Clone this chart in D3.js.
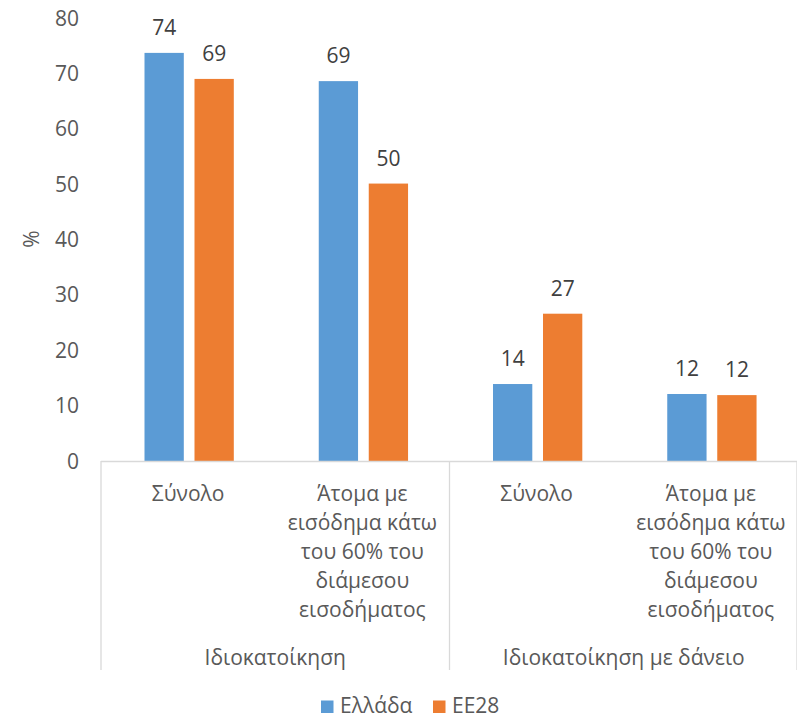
<!DOCTYPE html>
<html>
<head>
<meta charset="utf-8">
<script src="https://cdn.jsdelivr.net/npm/d3@7"></script>
<style>
  html, body { margin: 0; padding: 0; background: #fff; }
  svg { display: block; font-family: "Open Sans", "Noto Sans", sans-serif; }
</style>
</head>
<body>
<svg id="chart" width="797" height="718"></svg>
<script>
// ---- data ----
const categories = ["c1", "c2", "c3", "c4"];
const categoryLabels = [
  ["Σύνολο"],
  ["Άτομα με", "εισόδημα κάτω", "του 60% του", "διάμεσου", "εισοδήματος"],
  ["Σύνολο"],
  ["Άτομα με", "εισόδημα κάτω", "του 60% του", "διάμεσου", "εισοδήματος"]
];
const groups = ["Ιδιοκατοίκηση", "Ιδιοκατοίκηση με δάνειο"];
const groupSpans = [[0, 1], [2, 3]];
const seriesNames = ["Ελλάδα", "ΕΕ28"];
const greeceValues = [73.7, 68.6, 13.9, 12.1];
const eu28Values = [69.0, 50.1, 26.6, 11.9];
const yTicks = [0, 10, 20, 30, 40, 50, 60, 70, 80];
const yLabel = "%";

const colors = ["#5B9BD5", "#ED7D31"];
const seriesValues = [greeceValues, eu28Values];

// ---- layout ----
const svg = d3.select("#chart");
const mLeft = 101, mRight = 798, mTop = 18, mBottom = 461;

const x0 = d3.scaleBand().domain(categories).range([mLeft, mRight]).padding(0);
const x1 = d3.scaleBand().domain(seriesNames).range([43.5, 132.8])
  .paddingInner(0.214).paddingOuter(0);
const y = d3.scaleLinear().domain([0, 80]).range([mBottom, mTop]);

const textColor = "#595959";
const lineColor = "#D9D9D9";
const fs = 21;

// y tick labels
svg.append("g").selectAll("text").data(yTicks).join("text")
  .attr("x", 79).attr("y", d => y(d)).attr("dy", "0.36em")
  .attr("text-anchor", "end").attr("fill", textColor)
  .attr("font-size", fs).text(d => d);

// y label
svg.append("text")
  .attr("transform", `translate(31,239) rotate(-90)`)
  .attr("text-anchor", "middle").attr("dy", "0.36em")
  .attr("fill", textColor).attr("font-size", fs).text(yLabel);

// bars
const barG = svg.append("g");
seriesNames.forEach((s, si) => {
  barG.selectAll(null).data(seriesValues[si]).join("rect")
    .attr("x", (d, i) => x0(categories[i]) + x1(s))
    .attr("width", x1.bandwidth())
    .attr("y", d => y(d))
    .attr("height", d => y(0) - y(d))
    .attr("fill", colors[si]);
  barG.selectAll(null).data(seriesValues[si]).join("text")
    .attr("x", (d, i) => x0(categories[i]) + x1(s) + x1.bandwidth() / 2)
    .attr("y", d => y(d) - 18)
    .attr("text-anchor", "middle").attr("fill", "#404040")
    .attr("font-size", fs).text(d => Math.round(d));
});

// x axis line
const axisG = svg.append("g").attr("stroke", lineColor).attr("stroke-width", 1.3);
axisG.append("line").attr("x1", mLeft).attr("x2", mRight)
  .attr("y1", mBottom + 0.5).attr("y2", mBottom + 0.5);
// group separators
const sepXs = [mLeft, x0(categories[2]), mRight - 1];
axisG.selectAll(null).data(sepXs).join("line")
  .attr("x1", d => d).attr("x2", d => d)
  .attr("y1", mBottom).attr("y2", 670);

// category labels
const lineH = 29;
categoryLabels.forEach((lines, i) => {
  const t = svg.append("text")
    .attr("text-anchor", "middle").attr("fill", textColor).attr("font-size", fs);
  lines.forEach((ln, j) => {
    t.append("tspan")
      .attr("x", x0(categories[i]) + x0.bandwidth() / 2)
      .attr("y", 493 + j * lineH).attr("dy", "0.36em").text(ln);
  });
});

// group labels
groups.forEach((g, gi) => {
  const a = x0(categories[groupSpans[gi][0]]);
  const b = x0(categories[groupSpans[gi][1]]) + x0.bandwidth();
  svg.append("text").attr("x", (a + b) / 2).attr("y", 657).attr("dy", "0.36em")
    .attr("text-anchor", "middle").attr("fill", textColor).attr("font-size", fs).text(g);
});

// legend
const legendXs = [321, 433];
seriesNames.forEach((s, si) => {
  const lx = legendXs[si];
  svg.append("rect").attr("x", lx).attr("y", 700.5).attr("width", 12.5).attr("height", 12.5)
    .attr("fill", colors[si]);
  svg.append("text").attr("x", lx + 19).attr("y", 712.5)
    .attr("fill", textColor).attr("font-size", fs).text(s);
});
</script>
</body>
</html>
